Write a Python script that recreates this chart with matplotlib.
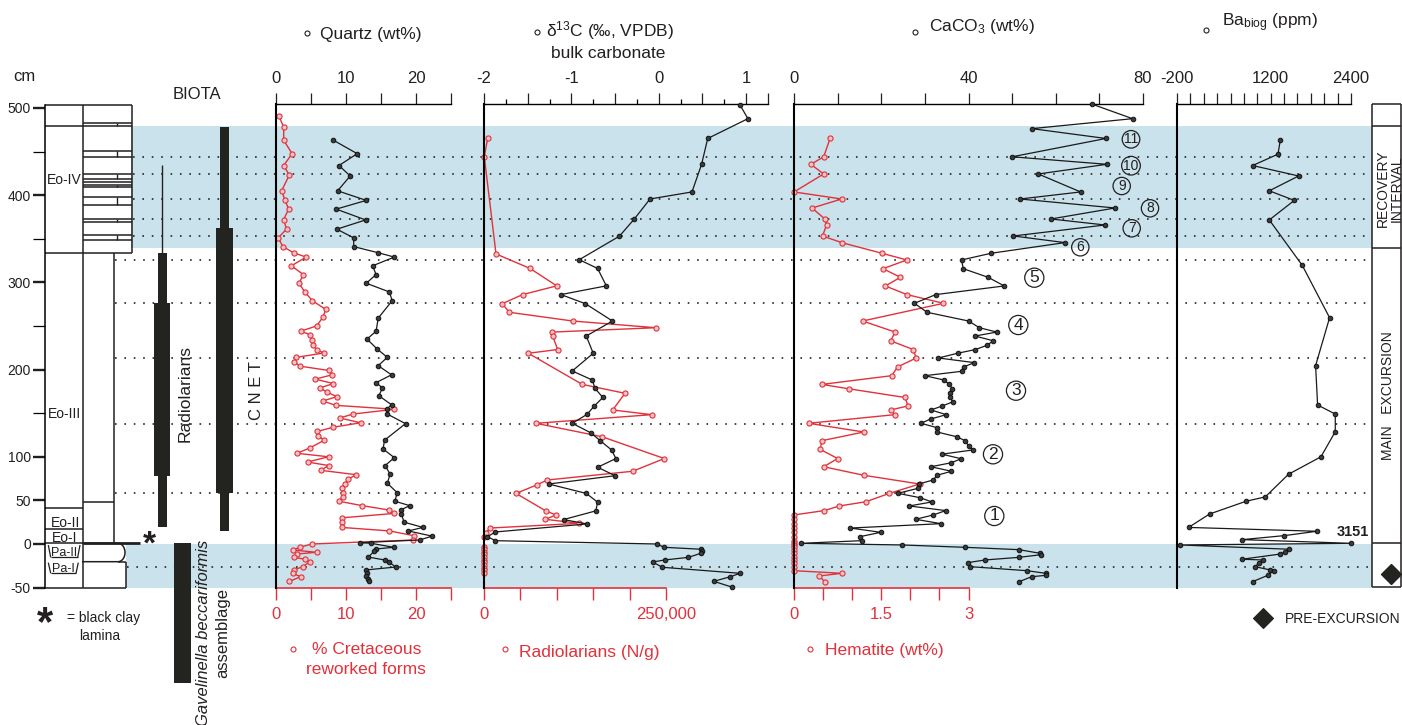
import numpy as np
import matplotlib
matplotlib.use('Agg')
import matplotlib.pyplot as plt
from matplotlib.patches import Rectangle
from matplotlib.lines import Line2D

plt.rcParams['font.family'] = ['Liberation Sans', 'DejaVu Sans']
plt.rcParams['mathtext.fontset'] = 'custom'
plt.rcParams['mathtext.rm'] = 'Liberation Sans'
plt.rcParams['mathtext.it'] = 'Liberation Sans:italic'
plt.rcParams['axes.unicode_minus'] = False

# ---------------- data (depth in cm) ----------------
quartz_depth = [463, 447.6, 434, 422, 405, 394, 384, 371.6, 361, 351, 341, 334, 329, 319, 309, 299, 289, 279,
                259, 244, 235, 224, 214, 204.5, 194, 185, 179, 170, 159.7, 154.5, 149, 138, 119, 109, 99, 90,
                80, 69.6, 59, 49, 44, 39, 34.5, 25, 19, 15, 9, 4.6, 1.5, 0.8, -3.8, -5.7, -8.4, -15, -18.3,
                -21, -26.4, -29.8, -33.6, -36.7, -39.8, -43]
quartz_wt = [8.2, 11.6, 9.0, 10.6, 8.8, 12.9, 8.6, 12.8, 8.7, 11.1, 11.1, 14.6, 16.9, 13.8, 14.3, 12.9, 16.2,
             16.6, 14.6, 14.3, 13.0, 14.4, 15.9, 14.6, 16.5, 14.3, 15.2, 14.7, 16.5, 15.8, 15.9, 18.5, 15.5,
             15.3, 16.9, 15.6, 16.3, 15.9, 17.3, 17.0, 19.1, 17.8, 17.9, 18.3, 21.0, 18.9, 22.3, 20.5, 12.0,
             13.6, 16.8, 14.3, 14.0, 13.2, 15.5, 16.2, 17.1, 12.8, 13.0, 12.9, 13.1, 13.3]

cret_depth = [491, 478, 463, 447.6, 434, 423, 405, 394, 384, 372, 361, 351, 341, 334, 329, 319, 309, 299, 289,
              279, 269, 260, 250, 244, 240, 234, 228, 223, 219, 214, 209, 204, 199, 194, 189, 184, 179, 174,
              169, 164, 159, 154.5, 149, 144.5, 139, 134, 129, 124, 119, 110, 104, 100, 94, 90, 84.5, 79.5,
              74, 69, 64, 59, 54, 49, 44, 39, 35, 30, 25, 19, 15, 9.5, 4.6, 0, -3.8, -6.9, -9.5, -11.5,
              -15.3, -17.5, -20.6, -26, -29.8, -33.6, -37.5, -43]
cret_pct = [0.4, 1.1, 1.1, 2.3, 1.1, 1.9, 0.8, 1.3, 1.8, 1.1, 1.5, 0.3, 1.0, 2.5, 4.3, 2.2, 3.9, 3.3, 4.1, 5.2,
            7.1, 6.7, 5.8, 3.5, 4.9, 5.1, 5.3, 5.8, 6.8, 2.9, 2.6, 3.4, 7.5, 8.0, 5.6, 8.2, 6.3, 7.3, 8.7,
            6.7, 8.5, 16.9, 11.0, 9.1, 12.1, 8.2, 5.9, 6.0, 6.9, 4.8, 3.0, 7.5, 4.5, 7.5, 6.4, 11.4, 10.3,
            9.8, 9.4, 9.6, 9.5, 9.0, 12.3, 16.1, 16.8, 9.4, 9.4, 9.4, 16.2, 19.7, 19.6, 5.1, 3.4, 2.4, 5.8,
            2.95, 2.5, 4.2, 4.8, 3.8, 2.6, 2.4, 3.5, 1.9]

d13c_depth = [503.4, 487.7, 465, 435.4, 403.7, 395.6, 372.7, 353, 326, 316, 296, 286, 275.6, 255.7, 238.5,
              218.7, 198.4, 188, 178.5, 168, 158, 148.7, 138.4, 127.6, 118.5, 107.8, 98, 88, 78.3, 68.8, 58,
              48, 38, 28, 23, 13.8, 8.4, 3.8, 0, -3.8, -6, -8.4, -10.7, -15.3, -18.3, -20.6, -26.7, -33.6,
              -37.5, -42.8, -49.5]
d13c_val = [0.93, 1.02, 0.56, 0.49, 0.38, -0.10, -0.28, -0.45, -0.91, -0.70, -0.60, -1.12, -0.84, -0.53,
            -0.83, -0.75, -0.99, -0.76, -0.73, -0.64, -0.74, -0.82, -0.99, -0.78, -0.67, -0.54, -0.49, -0.70,
            -0.50, -1.26, -0.83, -0.70, -0.72, -1.09, -0.82, -1.87, -1.96, -1.87, -0.02, 0.06, 0.48, 0.49,
            0.48, 0.34, 0.07, -0.07, 0.04, 0.93, 0.82, 0.63, 0.84]

rad_depth = [465, 444, 332.6, 316, 296, 286, 275.6, 265.7, 255.7, 248, 243, 238.5, 223, 218.7, 183, 172.8,
             153.7, 148.3, 138.4, 123, 98, 83.4, 73.4, 68, 58, 37.8, 33.3, 28.3, 23.7, 18.3, 12.6, 8, -3, -6,
             -9, -12, -15, -18, -21, -24, -27, -30, -33]
rad_ng = [5000, 400, 16500, 63200, 99900, 53100, 25100, 34800, 121800, 236000, 93400, 94300, 101200, 60900,
          135000, 193700, 176800, 230300, 71400, 162100, 247700, 204200, 87000, 73200, 44000, 85200, 98900,
          84200, 130900, 8200, 2700, 0, 0, 0, 0, 0, 0, 0, 0, 0, 0, 0, 0]

caco3_depth = [504.6, 487.7, 476.3, 465, 444, 435.4, 424.3, 403.7, 395.6, 385.3, 372.7, 365.8, 353.2, 345.6,
               333.4, 325.7, 315.7, 305.8, 295.9, 286, 276, 265.7, 255.7, 248, 243, 238.5, 233, 228, 223,
               218.7, 213.3, 208, 203, 198, 193, 188, 183, 178, 172.8, 168, 163, 158.3, 153.7, 148.3, 143.3,
               138.4, 133.4, 128.4, 123, 118.5, 112.8, 107.8, 103, 97.8, 93.2, 88.6, 83.4, 78.8, 73.4, 68.8,
               63.9, 58.1, 53.1, 48.2, 43.6, 38.3, 33.3, 28.3, 23.3, 18.3, 13.4, 8.4, 3.8, 0.8, -1.1, -3.8,
               -6.5, -10.7, -12.3, -15.3, -18.3, -21.4, -26, -30.6, -33.6, -35.9, -37.5, -43.2]
caco3_wt = [68.2, 77.6, 54.5, 71.5, 50.0, 71.7, 56.0, 65.7, 51.8, 73.6, 58.9, 71.3, 50.3, 62.1, 45.2, 38.4,
            38.8, 44.5, 48.2, 32.5, 27.6, 30.5, 40.0, 42.5, 46.5, 41.5, 45.7, 44.3, 41.6, 37.5, 33.1, 41.3,
            38.9, 38.4, 30.0, 34.4, 35.6, 36.3, 35.7, 35.8, 36.4, 34.0, 31.4, 34.9, 31.3, 29.1, 32.8, 32.8,
            37.3, 39.2, 40.0, 41.0, 33.9, 38.3, 36.1, 31.4, 36.1, 32.8, 31.9, 28.6, 28.5, 23.8, 28.9, 31.6,
            26.4, 34.8, 31.9, 27.9, 33.7, 12.9, 19.9, 15.1, 15.5, 1.6, 24.7, 39.2, 51.6, 56.4, 56.6, 51.6,
            43.8, 39.8, 40.4, 53.4, 57.7, 57.8, 54.5, 51.6]

hem_depth = [465, 444, 435.4, 424.3, 403.7, 395.6, 385.3, 372.7, 365.8, 353.2, 345.6, 333.4, 325.7, 315.7,
             305.8, 295.9, 286, 276, 255.7, 243, 233, 223, 213.3, 203, 193, 183, 178, 168, 158.3, 153.7,
             148.3, 138.4, 128.4, 118.5, 108.6, 98, 88.6, 78.8, 68.8, 58.1, 48.5, 43.6, 38.3, 33.3, 28.3,
             23.3, 18.3, 13.4, 8.4, 3.8, 0.8, -1.1, -3.8, -6.5, -10.7, -15.3, -18.3, -21.4, -26, -30.6,
             -33.6, -36.7, -43.2]
hem_wt = [0.62, 0.51, 0.29, 0.51, 0.0, 0.82, 0.31, 0.53, 0.56, 0.49, 0.82, 1.51, 1.94, 1.53, 1.83, 1.57,
          1.94, 2.57, 1.18, 1.74, 1.66, 2.05, 2.10, 1.78, 1.68, 0.48, 0.94, 1.91, 1.96, 1.66, 1.73, 0.25,
          1.20, 0.48, 0.45, 0.75, 0.51, 1.20, 2.16, 1.64, 1.24, 0.78, 0.52, 0, 0, 0, 0, 0, 0, 0, 0, 0, 0,
          0, 0, 0, 0, 0, 0, 0, 0.82, 0.43, 0.53]

ba_depth = [463, 447, 434, 422, 405, 394, 371.6, 319.5, 259.5, 204.5, 159.4, 149, 128.8, 100, 80, 54, 49,
            34.4, 19, 14.6, 9.6, 5, 0.8, -1.1, -6, -9, -11.5, -17.5, -18.3, -22, -26, -29.8, -30.6, -36,
            -43.2]
ba_ppm = [1343, 1309, 930, 1617, 1179, 1553, 1179, 1672, 2080, 1871, 1901, 2165, 2165, 1951, 1467, 1119, 831,
          287, -27, 1892, 1403, 776, 3151, -161, 1467, 1418, 1343, 771, 1085, 1020, 970, 1194, 1243, 1154,
          930]

# stratigraphy / zones (cm)
recovery_band = (339.5, 479.0)
pre_band = (-50.0, 0.0)
dotted_levels = [444, 424, 396, 373, 353, 326, 276, 213, 138, 59, -26]
cycle_labels = ['11', '10', '9', '8', '7', '6', '5', '4', '3', '2', '1']

# ---------------- figure ----------------
W, H = 1402, 725
fig = plt.figure(figsize=(W / 100, H / 100), dpi=100)
fig.patch.set_facecolor('white')


def fx(px):
    return px / W


def fy(py):
    return 1 - py / H


YLIM = (-50, 505)
Y0 = fy(587.6)
Y1 = fy(103.6)
HH = Y1 - Y0
BLUE = '#c9e2eb'
RED = '#e2313a'
BLK = '#231f20'
BAR = '#23241f'

bg = fig.add_axes([0, Y0, 1, HH], zorder=0)
bg.set_xlim(0, W)
bg.set_ylim(*YLIM)
bg.axis('off')

# bands
bg.add_patch(Rectangle((131, recovery_band[0]), 1372 - 131, recovery_band[1] - recovery_band[0],
                       facecolor=BLUE, edgecolor='none', zorder=0))
bg.add_patch(Rectangle((126, pre_band[0]), 1372 - 126, pre_band[1] - pre_band[0],
                       facecolor=BLUE, edgecolor='none', zorder=0))
for lev in dotted_levels:
    xs = 133 if lev > 334 else (127 if lev < 0 else 115)
    bg.plot([xs, 1370], [lev, lev], color='#333333', lw=1.3, ls=(0, (0.9, 4.3)), zorder=1)


def seg(x0, x1, y0, y1, lw=1.1, color=BLK):
    bg.plot([x0, x1], [y0, y1], color=color, lw=lw, solid_capstyle='butt', zorder=3, clip_on=False)


# lithology column 1 (stages)
seg(82.7, 82.7, 503.5, -50)
seg(45, 131.7, 503.5, 503.5)
for yy in [479.4, 334, 41, 17]:
    seg(45, 82.7, yy, yy)
seg(45, 82.7, 0.8, 0.8)
seg(45, 126, -50, -50)
# Pa trapezoids
seg(48.3, 50.7, -1.2, -15.3, lw=0.9); seg(80, 77.7, -1.2, -15.3, lw=0.9); seg(50.7, 77.7, -15.3, -15.3, lw=0.9)
seg(48.3, 50.7, -21.4, -33.6, lw=0.9); seg(78.3, 76, -21.4, -33.6, lw=0.9); seg(50.7, 76, -33.6, -33.6, lw=0.9)

# lithology column 2 (beds)
seg(131.7, 131.7, 503.5, 334)
for yy in [482.4, 479.4, 451, 443.4, 424.3, 419, 415.5, 411.3, 409, 398.3, 388.8, 373, 369, 354.4, 348.6, 334]:
    seg(82.7, 131.7, yy, yy)
for (ya, yb) in [(479.4, 482.4), (443.4, 451), (419, 424.3), (409, 411.3), (388.8, 398.3), (369, 373),
                 (348.6, 354.4)]:
    seg(116.7, 116.7, ya, yb, lw=1.0)
seg(114.3, 114.3, 334, 0.8)
seg(82.7, 114.3, 48, 48)
seg(82.7, 140, 0.8, 0.8, lw=2.0)
t = np.linspace(np.pi / 2, -np.pi / 2, 30)
bg.plot(np.r_[82.7, 118 + 7 * np.cos(t), 82.7], np.r_[0.8, -9.75 + 10.55 * np.sin(t), -20.3],
        color=BLK, lw=1.1, zorder=3)
seg(118, 126, -20.3, -20.3)
seg(126, 126, -20.3, -50)

# biota bars
def bar(xc, w, ya, yb):
    bg.add_patch(Rectangle((xc - w / 2, yb), w, ya - yb, facecolor=BAR, edgecolor='none', zorder=4,
                           clip_on=False))


seg(162.3, 162.3, 434.6, 334, lw=1.0, color=BAR)
bar(162.3, 9.4, 334, 276)
bar(162.3, 16, 276, 78)
bar(162.3, 9.4, 78, 20)
bar(224.5, 9.4, 478.6, 362)
bar(224.5, 16.7, 362, 59)
bar(224.5, 9.4, 59, 15)
bar(182.3, 16.7, 0.8, -159)

# right interval column
seg(1372, 1372, 504.6, -49.7)
seg(1401, 1401, 504.6, -49.7)
for yy in [504.6, 479.4, 339, 0.8, -49.7]:
    seg(1372, 1401, yy, yy)
bg.plot([1390.7], [-34.4], marker='D', ms=10, color=BAR, clip_on=False, zorder=5)

# left depth axis
axl = fig.add_axes([fx(45), Y0, fx(131) - fx(45), HH], facecolor='none', zorder=2)
axl.set_ylim(*YLIM)
for s in ['top', 'right', 'bottom']:
    axl.spines[s].set_visible(False)
axl.spines['left'].set_bounds(-50, 503.5)
axl.spines['left'].set_linewidth(1.1)
axl.set_xticks([])
axl.set_yticks([-50, 0, 50, 100, 200, 300, 400, 500])
axl.set_yticks([150, 250, 350, 450], minor=True)
axl.tick_params(axis='y', which='major', length=8.6, width=1.7, labelsize=10, pad=1.5, colors=BLK)
axl.tick_params(axis='y', which='minor', length=8.6, width=0.9)


# ---------------- data panels ----------------
def panel(x0, x1, xlim, ticks, labels, minor=None):
    ax = fig.add_axes([fx(x0), Y0, fx(x1) - fx(x0), HH], facecolor='none', zorder=5)
    ax.set_xlim(*xlim)
    ax.set_ylim(*YLIM)
    for s in ['right', 'bottom']:
        ax.spines[s].set_visible(False)
    ax.spines['top'].set_linewidth(1.0)
    ax.spines['left'].set_linewidth(1.5)
    ax.xaxis.tick_top()
    ax.set_xticks(ticks)
    ax.set_xticklabels(labels)
    if minor is not None:
        ax.set_xticks(minor, minor=True)
    ax.tick_params(axis='x', which='major', direction='out', length=8, width=0.9, pad=4.5,
                   labelsize=12, colors=BLK)
    ax.tick_params(axis='x', which='minor', direction='out', length=3.5, width=0.9)
    ax.set_yticks([])
    return ax


def red_axis(x0, x1, xlim, bounds, ticks, labels):
    ar = fig.add_axes([fx(x0), Y0, fx(x1) - fx(x0), HH], facecolor='none', zorder=4)
    ar.set_xlim(*xlim)
    ar.set_ylim(*YLIM)
    for s in ['right', 'top', 'left']:
        ar.spines[s].set_visible(False)
    ar.spines['bottom'].set_color(RED)
    ar.spines['bottom'].set_linewidth(1.2)
    ar.spines['bottom'].set_bounds(*bounds)
    ar.set_xticks(ticks)
    ar.set_xticklabels(labels)
    ar.tick_params(axis='x', direction='out', length=8.5, width=1.0, pad=5.5, labelsize=12, colors=RED)
    ar.set_yticks([])
    return ar


def plot_black(ax, x, y):
    ax.plot(x, y, '-o', color='#1a1a1a', lw=0.9, ms=3.3, mfc='#3b3b3b', mec='#111111', mew=0.7,
            clip_on=False, zorder=6)


def plot_red(ax, x, y):
    ax.plot(x, y, '-o', color=RED, lw=1.0, ms=3.7, mfc='#f5c3c6', mec=RED, mew=0.8,
            clip_on=False, zorder=5)


# quartz / cretaceous
axq = panel(276, 451, (0, 25), [0, 5, 10, 15, 20, 25], ['0', '', '10', '', '20', ''])
arq = red_axis(276, 451, (0, 25), (0, 25), [0, 5, 10, 15, 20, 25], ['0', '', '10', '', '20', ''])
plot_red(arq, cret_pct, cret_depth)
plot_black(axq, quartz_wt, quartz_depth)

# d13C / radiolarians
axd = panel(484, 768, (-2, 1.25), [-2, -1.5, -1, -0.5, 0, 0.5, 1, 1.25],
            ['-2', '', '-1', '', '0', '', '1', ''], minor=[-1.75, -1.25, -0.75, -0.25, 0.25, 0.75])
ard = red_axis(484, 768, (0, 250000 * 284 / 182), (0, 250000),
               [0, 50000, 100000, 150000, 200000, 250000], ['0', '', '', '', '', '250,000'])
plot_red(ard, rad_ng, rad_depth)
plot_black(axd, d13c_val, d13c_depth)

# CaCO3 / hematite
axc = panel(794, 1143, (0, 80), list(range(0, 81, 10)), ['0', '', '', '', '40', '', '', '', '80'])
arc = red_axis(794, 1143, (0, 6.0), (0, 3), [0, 0.5, 1, 1.5, 2, 2.5, 3], ['0', '', '', '1.5', '', '', '3'])
plot_red(arc, hem_wt, hem_depth)
plot_black(axc, caco3_wt, caco3_depth)

# Ba biog
ba_lim = 2400
axb = panel(1177, 1351, (-200, ba_lim), list(range(-200, 2401, 200)),
            ['-200'] + [''] * 6 + ['1200'] + [''] * 5 + ['2400'])
plot_black(axb, np.minimum(ba_ppm, ba_lim), ba_depth)

# ---------------- texts ----------------
def mk(px, py, marker='o', ms=3.6, fc='white', ec=BLK):
    fig.add_artist(Line2D([fx(px)], [fy(py)], marker=marker, ms=ms, mfc=fc, mec=ec, mew=0.8,
                          transform=fig.transFigure, ls='none'))


FS = 12.5
fig.text(fx(320), fy(39), 'Quartz (wt%)', fontsize=FS, color=BLK, va='baseline')
mk(307, 33)
fig.text(fx(546), fy(36.8), 'δ$^{13}$C (‰, VPDB)', fontsize=FS, color=BLK, va='baseline')
fig.text(fx(608.5), fy(58), 'bulk carbonate', fontsize=FS, color=BLK, va='baseline', ha='center')
mk(536.7, 31.7)
fig.text(fx(929), fy(30.8), 'CaCO$_3$ (wt%)', fontsize=FS, color=BLK, va='baseline')
mk(915, 31.7)
fig.text(fx(1222), fy(26.5), 'Ba$_{\\mathrm{biog}}$ (ppm)', fontsize=FS, color=BLK, va='baseline')
mk(1206, 30)

fig.text(fx(366.3), fy(654.5), '% Cretaceous', fontsize=FS, color=RED, va='baseline', ha='center')
fig.text(fx(366.3), fy(673.5), 'reworked forms', fontsize=FS, color=RED, va='baseline', ha='center')
mk(292.7, 649.3, ec=RED)
fig.text(fx(519), fy(657.5), 'Radiolarians (N/g)', fontsize=FS, color=RED, va='baseline')
mk(505, 649.3, ec=RED)
fig.text(fx(825), fy(655.5), 'Hematite (wt%)', fontsize=FS, color=RED, va='baseline')
mk(810, 649.3, ec=RED)

fig.text(fx(1285), fy(622.7), 'PRE-EXCURSION', fontsize=10, color=BLK, va='baseline')
mk(1263.3, 618.3, marker='D', ms=10, fc=BAR, ec=BAR)

fig.text(fx(13.3), fy(80.7), 'cm', fontsize=12, color=BLK, va='baseline')
fig.text(fx(196.7), fy(99.3), 'BIOTA', fontsize=12, color=BLK, va='baseline', ha='center')

fig.text(fx(47.3), fy(184), 'Eo-IV', fontsize=10, color=BLK, va='baseline')
fig.text(fx(47.7), fy(418.3), 'Eo-III', fontsize=10, color=BLK, va='baseline')
fig.text(fx(65.5), fy(526.7), 'Eo-II', fontsize=10, color=BLK, va='baseline', ha='center')
fig.text(fx(64.5), fy(541.5), 'Eo-I', fontsize=10, color=BLK, va='baseline', ha='center')
fig.text(fx(64.3), fy(555.5), 'Pa-II', fontsize=9, color=BLK, va='baseline', ha='center')
fig.text(fx(63.5), fy(572), 'Pa-I', fontsize=9, color=BLK, va='baseline', ha='center')

fig.text(fx(149.3), fy(545), '*', fontsize=24, fontweight='bold', color=BLK, ha='center', va='center')
fig.text(fx(45), fy(624), '*', fontsize=30, fontweight='bold', color=BLK, ha='center', va='center')
fig.text(fx(66.7), fy(622), '= black clay', fontsize=10, color=BLK, va='baseline')
fig.text(fx(79), fy(640), 'lamina', fontsize=10, color=BLK, va='baseline')

fig.text(fx(185.5), fy(393.3), 'Radiolarians', fontsize=12.5, color=BLK, rotation=90, ha='center', va='center')
fig.text(fx(256.8), fy(390.8), 'C N E T', fontsize=12, color=BLK, rotation=90, ha='center', va='center')
fig.text(fx(203), fy(633), 'Gavelinella beccariformis', fontsize=12, style='italic', color=BLK,
         rotation=90, ha='center', va='center')
fig.text(fx(223), fy(633), 'assemblage', fontsize=12, color=BLK, rotation=90, ha='center', va='center')

fig.text(fx(1390), fy(188.3), 'RECOVERY\nINTERVAL', fontsize=10, color=BLK, rotation=90, ha='center',
         va='center', linespacing=0.95)
fig.text(fx(1387.5), fy(395.8), 'MAIN   EXCURSION', fontsize=10, color=BLK, rotation=90, ha='center',
         va='center')
fig.text(fx(1353), fy(532.3), '3151', fontsize=10.5, fontweight='bold', color=BLK, ha='center', va='center')

# circled cycle numbers (pixel positions)
circ_pos = [(1131, 139.3), (1131, 165.7), (1121.7, 186), (1150, 208.3), (1131.7, 228.3), (1080.3, 247.3),
            (1034.3, 277.7), (1018.3, 325), (1016, 390.7), (993, 454.3), (994.3, 516)]
for lab, (px, py) in zip(cycle_labels, circ_pos):
    small = int(lab) >= 6
    fs = 10 if small else 12.5
    fig.text(fx(px), fy(py), lab, fontsize=fs, color=BLK, ha='center', va='center',
             bbox=dict(boxstyle='circle,pad=0.12', fc='none', ec=BLK, lw=0.9))

fig.savefig('out.png', dpi=100)
